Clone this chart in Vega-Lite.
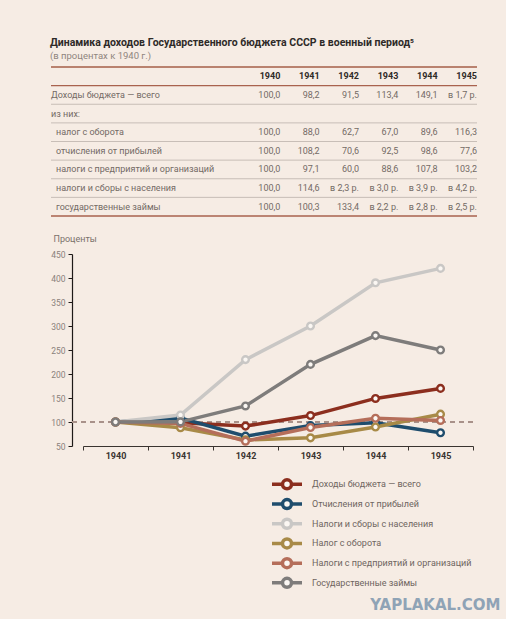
{
  "$schema": "https://vega.github.io/schema/vega-lite/v6.json",
  "background": "#f6ece4",
  "padding": {"left": 50, "top": 38, "right": 5, "bottom": 5},
  "title": {
    "text": "Динамика доходов Государственного бюджета СССР в военный период⁵",
    "subtitle": "(в процентах к 1940 г.)",
    "anchor": "start",
    "font": "Roboto",
    "fontSize": 10.5,
    "fontWeight": "bold",
    "color": "#2e2a28",
    "subtitleFont": "Roboto",
    "subtitleFontSize": 9.5,
    "subtitleColor": "#8f857e",
    "subtitlePadding": 2,
    "offset": 6
  },
  "datasets": {
    "rows": [
      {"row": "0", "label": "", "level": 0},
      {"row": "1", "label": "Доходы бюджета — всего", "level": 0},
      {"row": "2", "label": "из них:", "level": 0},
      {"row": "3", "label": "налог с оборота", "level": 1},
      {"row": "4", "label": "отчисления от прибылей", "level": 1},
      {"row": "5", "label": "налоги с предприятий и организаций", "level": 1},
      {"row": "6", "label": "налоги и сборы с населения", "level": 1},
      {"row": "7", "label": "государственные займы", "level": 1}
    ],
    "cells": [
      {"row": "0", "col": "1940", "text": "1940"},
      {"row": "0", "col": "1941", "text": "1941"},
      {"row": "0", "col": "1942", "text": "1942"},
      {"row": "0", "col": "1943", "text": "1943"},
      {"row": "0", "col": "1944", "text": "1944"},
      {"row": "0", "col": "1945", "text": "1945"},
      {"row": "1", "col": "1940", "text": "100,0"},
      {"row": "1", "col": "1941", "text": "98,2"},
      {"row": "1", "col": "1942", "text": "91,5"},
      {"row": "1", "col": "1943", "text": "113,4"},
      {"row": "1", "col": "1944", "text": "149,1"},
      {"row": "1", "col": "1945", "text": "в 1,7 р."},
      {"row": "3", "col": "1940", "text": "100,0"},
      {"row": "3", "col": "1941", "text": "88,0"},
      {"row": "3", "col": "1942", "text": "62,7"},
      {"row": "3", "col": "1943", "text": "67,0"},
      {"row": "3", "col": "1944", "text": "89,6"},
      {"row": "3", "col": "1945", "text": "116,3"},
      {"row": "4", "col": "1940", "text": "100,0"},
      {"row": "4", "col": "1941", "text": "108,2"},
      {"row": "4", "col": "1942", "text": "70,6"},
      {"row": "4", "col": "1943", "text": "92,5"},
      {"row": "4", "col": "1944", "text": "98,6"},
      {"row": "4", "col": "1945", "text": "77,6"},
      {"row": "5", "col": "1940", "text": "100,0"},
      {"row": "5", "col": "1941", "text": "97,1"},
      {"row": "5", "col": "1942", "text": "60,0"},
      {"row": "5", "col": "1943", "text": "88,6"},
      {"row": "5", "col": "1944", "text": "107,8"},
      {"row": "5", "col": "1945", "text": "103,2"},
      {"row": "6", "col": "1940", "text": "100,0"},
      {"row": "6", "col": "1941", "text": "114,6"},
      {"row": "6", "col": "1942", "text": "в 2,3 р."},
      {"row": "6", "col": "1943", "text": "в 3,0 р."},
      {"row": "6", "col": "1944", "text": "в 3,9 р."},
      {"row": "6", "col": "1945", "text": "в 4,2 р."},
      {"row": "7", "col": "1940", "text": "100,0"},
      {"row": "7", "col": "1941", "text": "100,3"},
      {"row": "7", "col": "1942", "text": "133,4"},
      {"row": "7", "col": "1943", "text": "в 2,2 р."},
      {"row": "7", "col": "1944", "text": "в 2,8 р."},
      {"row": "7", "col": "1945", "text": "в 2,5 р."}
    ],
    "series": [
      {"series": "Доходы бюджета — всего", "year": "1940", "value": 100},
      {"series": "Доходы бюджета — всего", "year": "1941", "value": 98.2},
      {"series": "Доходы бюджета — всего", "year": "1942", "value": 91.5},
      {"series": "Доходы бюджета — всего", "year": "1943", "value": 113.4},
      {"series": "Доходы бюджета — всего", "year": "1944", "value": 149.1},
      {"series": "Доходы бюджета — всего", "year": "1945", "value": 170},
      {"series": "Отчисления от прибылей", "year": "1940", "value": 100},
      {"series": "Отчисления от прибылей", "year": "1941", "value": 108.2},
      {"series": "Отчисления от прибылей", "year": "1942", "value": 70.6},
      {"series": "Отчисления от прибылей", "year": "1943", "value": 92.5},
      {"series": "Отчисления от прибылей", "year": "1944", "value": 98.6},
      {"series": "Отчисления от прибылей", "year": "1945", "value": 77.6},
      {"series": "Налоги и сборы с населения", "year": "1940", "value": 100},
      {"series": "Налоги и сборы с населения", "year": "1941", "value": 114.6},
      {"series": "Налоги и сборы с населения", "year": "1942", "value": 230},
      {"series": "Налоги и сборы с населения", "year": "1943", "value": 300},
      {"series": "Налоги и сборы с населения", "year": "1944", "value": 390},
      {"series": "Налоги и сборы с населения", "year": "1945", "value": 420},
      {"series": "Налог с оборота", "year": "1940", "value": 100},
      {"series": "Налог с оборота", "year": "1941", "value": 88.0},
      {"series": "Налог с оборота", "year": "1942", "value": 62.7},
      {"series": "Налог с оборота", "year": "1943", "value": 67.0},
      {"series": "Налог с оборота", "year": "1944", "value": 89.6},
      {"series": "Налог с оборота", "year": "1945", "value": 116.3},
      {"series": "Налоги с предприятий и организаций", "year": "1940", "value": 100},
      {"series": "Налоги с предприятий и организаций", "year": "1941", "value": 97.1},
      {"series": "Налоги с предприятий и организаций", "year": "1942", "value": 60.0},
      {"series": "Налоги с предприятий и организаций", "year": "1943", "value": 88.6},
      {"series": "Налоги с предприятий и организаций", "year": "1944", "value": 107.8},
      {"series": "Налоги с предприятий и организаций", "year": "1945", "value": 103.2},
      {"series": "Государственные займы", "year": "1940", "value": 100},
      {"series": "Государственные займы", "year": "1941", "value": 100.3},
      {"series": "Государственные займы", "year": "1942", "value": 133.4},
      {"series": "Государственные займы", "year": "1943", "value": 220},
      {"series": "Государственные займы", "year": "1944", "value": 280},
      {"series": "Государственные займы", "year": "1945", "value": 250}
    ]
  },
  "spacing": 17,
  "vconcat": [
    {
      "width": 405,
      "height": 149,
      "resolve": {"scale": {"x": "independent"}},
      "layer": [
        {
          "data": {"name": "rows"},
          "transform": [{"filter": "datum.row === '0'"}],
          "mark": {"type": "rule", "strokeWidth": 2, "color": "#b9826f"},
          "encoding": {
            "x": {"datum": 0, "type": "quantitative", "scale": {"domain": [0, 1], "range": [-21, 405], "nice": false, "zero": false}, "axis": null},
            "x2": {"datum": 1},
            "y": {"field": "row", "type": "ordinal", "bandPosition": 0,
                  "scale": {"domain": ["0","1","2","3","4","5","6","7"], "paddingInner": 0, "paddingOuter": 0},
                  "axis": null}
          }
        },
        {
          "data": {"name": "rows"},
          "mark": {"type": "rule"},
          "encoding": {
            "x": {"datum": 0, "type": "quantitative", "scale": {"domain": [0, 1], "range": [-21, 405], "nice": false, "zero": false}, "axis": null},
            "x2": {"datum": 1},
            "y": {"field": "row", "type": "ordinal", "bandPosition": 1, "axis": null},
            "color": {"condition": {"test": "datum.row === '0' || datum.row === '7'", "value": "#a9624e"}, "value": "#bdb3ab"},
            "strokeWidth": {"condition": {"test": "datum.row === '0' || datum.row === '7'", "value": 1.4}, "value": 0.8}
          }
        },
        {
          "data": {"name": "rows"},
          "transform": [{"filter": "datum.level === 0"}],
          "mark": {"type": "text", "align": "left", "baseline": "middle", "font": "Roboto", "fontSize": 9, "color": "#736a64"},
          "encoding": {
            "x": {"datum": "label", "type": "nominal", "bandPosition": 0,
                  "scale": {"type": "band", "domain": ["label"], "range": [-21, 169], "paddingInner": 0, "paddingOuter": 0},
                  "axis": null},
            "y": {"field": "row", "type": "ordinal", "axis": null},
            "text": {"field": "label"}
          }
        },
        {
          "data": {"name": "rows"},
          "transform": [{"filter": "datum.level === 1"}],
          "mark": {"type": "text", "align": "left", "baseline": "middle", "dx": 5, "font": "Roboto", "fontSize": 9, "color": "#736a64"},
          "encoding": {
            "x": {"datum": "label", "type": "nominal", "bandPosition": 0,
                  "scale": {"type": "band", "domain": ["label"], "range": [-21, 169], "paddingInner": 0, "paddingOuter": 0},
                  "axis": null},
            "y": {"field": "row", "type": "ordinal", "axis": null},
            "text": {"field": "label"}
          }
        },
        {
          "data": {"name": "cells"},
          "transform": [{"filter": "datum.row === '0'"}],
          "mark": {"type": "text", "align": "right", "baseline": "middle", "font": "Roboto", "fontSize": 9, "fontWeight": "bold", "color": "#2f2a27"},
          "encoding": {
            "x": {"field": "col", "type": "ordinal", "bandPosition": 1,
                  "scale": {"type": "band", "domain": ["1940","1941","1942","1943","1944","1945"], "range": [169, 405], "paddingInner": 0, "paddingOuter": 0},
                  "axis": null},
            "y": {"field": "row", "type": "ordinal", "axis": null},
            "text": {"field": "text"}
          }
        },
        {
          "data": {"name": "cells"},
          "transform": [{"filter": "datum.row !== '0'"}],
          "mark": {"type": "text", "align": "right", "baseline": "middle", "font": "Roboto", "fontSize": 9, "color": "#736a64"},
          "encoding": {
            "x": {"field": "col", "type": "ordinal", "bandPosition": 1,
                  "scale": {"type": "band", "domain": ["1940","1941","1942","1943","1944","1945"], "range": [169, 405], "paddingInner": 0, "paddingOuter": 0},
                  "axis": null},
            "y": {"field": "row", "type": "ordinal", "axis": null},
            "text": {"field": "text"}
          }
        }
      ]
    },
    {
      "width": 401,
      "height": 192,
      "title": {"text": "YAPLAKAL.COM", "orient": "bottom", "anchor": "end", "offset": 4, "dx": 27, "font": "DejaVu Sans", "fontSize": 15, "fontWeight": "bold", "color": "#8fa3b6"},
      "data": {"name": "series"},
      "resolve": {"scale": {"y": "independent"}},
      "layer": [
        {
          "encoding": {
            "x": {"field": "year", "type": "ordinal",
                  "scale": {"type": "band", "range": [11, 401], "paddingInner": 0, "paddingOuter": 0},
                  "axis": {"title": null, "tickBand": "extent", "domainColor": "#3a3430", "domainWidth": 1, "tickColor": "#3a3430", "tickSize": 4,
                           "labelFont": "Roboto", "labelFontSize": 9, "labelFontWeight": "bold", "labelColor": "#3a3430", "labelPadding": 1, "labelAngle": 0}},
            "y": {"field": "value", "type": "quantitative",
                  "scale": {"domain": [50, 450], "nice": false, "zero": false},
                  "axis": {"values": [50,100,150,200,250,300,350,400,450], "labelOverlap": false, "title": "Проценты", "titleAngle": 0, "titleAlign": "left", "titleBaseline": "middle",
                           "titleX": -19, "titleY": -16, "titleFont": "Roboto", "titleFontSize": 9, "titleFontWeight": "normal", "titleColor": "#7a716b",
                           "domainColor": "#1e1a18", "domainWidth": 1.2, "tickColor": "#1e1a18", "tickSize": 4, "grid": false,
                           "labelFont": "Roboto", "labelFontSize": 8.5, "labelColor": "#8a817b", "labelPadding": 3}},
            "color": {"field": "series", "type": "nominal",
                      "scale": {"domain": ["Доходы бюджета — всего", "Отчисления от прибылей", "Налоги и сборы с населения", "Налог с оборота", "Налоги с предприятий и организаций", "Государственные займы"],
                                "range": ["#8c2e1e", "#1f4d6d", "#c9c7c5", "#a88a47", "#b56e5a", "#7e7c7b"]},
                      "legend": null}
          },
          "layer": [
            {
              "mark": {"type": "rule", "strokeDash": [5, 4], "strokeWidth": 1, "color": "#a89189"},
              "encoding": {"y": {"datum": 100, "type": "quantitative"}, "color": {"value": "#a89189"}, "x": null}
            },
            {"mark": {"type": "line", "strokeWidth": 3.5}},
            {"mark": {"type": "point", "shape": "circle", "filled": false, "fill": "#fbf7f3", "fillOpacity": 1, "size": 45, "strokeWidth": 2.4, "opacity": 1}}
          ]
        },
        {
          "transform": [{"aggregate": [], "groupby": ["series"]}],
          "encoding": {
            "y": {"field": "series", "type": "nominal",
                  "scale": {"type": "band", "domain": ["Доходы бюджета — всего", "Отчисления от прибылей", "Налоги и сборы с населения", "Налог с оборота", "Налоги с предприятий и организаций", "Государственные займы"],
                            "range": [220.5, 338.7], "paddingInner": 0, "paddingOuter": 0},
                  "axis": null}
          },
          "layer": [
            {
              "mark": {"type": "point", "shape": "M-3,0L-0.9,0M0.9,0L3,0M0.9,0A0.9,0.9 0 1,1 -0.9,0A0.9,0.9 0 1,1 0.9,0",
                       "size": 100, "strokeWidth": 3.5, "filled": false, "fill": "#fbf7f3", "fillOpacity": 1, "opacity": 1},
              "encoding": {
                "xOffset": {"value": 14.5},
                "color": {"field": "series", "type": "nominal", "legend": null}
              }
            },
            {
              "mark": {"type": "text", "align": "left", "baseline": "middle", "dx": 39.5, "font": "Roboto", "fontSize": 9, "color": "#6e6560"},
              "encoding": {"text": {"field": "series"}}
            }
          ]
        }
      ]
    }
  ],
  "config": {"view": {"stroke": null}, "concat": {"spacing": 17}}
}
